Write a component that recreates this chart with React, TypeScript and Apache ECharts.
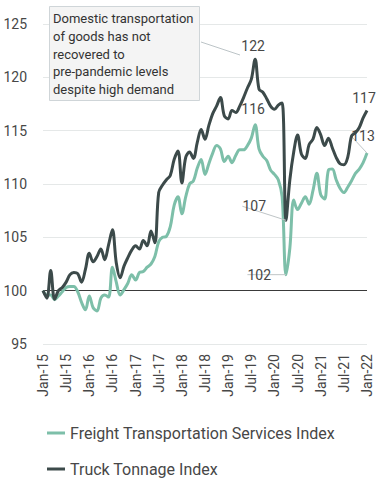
import React, { useEffect, useRef } from "react";
import * as echarts from "echarts";

const monthNames = ["Jan", "Feb", "Mar", "Apr", "May", "Jun", "Jul", "Aug", "Sep", "Oct", "Nov", "Dec"];
const startYear = 2015;
const monthCount = 85; // Jan-15 .. Jan-22
const categories: string[] = [];
for (let i = 0; i < monthCount; i++) {
  const y = startYear + Math.floor(i / 12);
  categories.push(`${monthNames[i % 12]}-${String(y).slice(2)}`);
}

const freightTSI = [
  100.0, 99.6, 99.6, 99.15, 99.5, 99.9, 100.3, 100.4, 100.4, 99.9, 98.9, 98.2,
  99.5, 98.4, 98.1, 99.3, 99.6, 99.4, 102.2, 100.8, 99.6, 100.1, 100.7, 101.5,
  101.0, 101.7, 101.8, 102.2, 102.5, 103.2, 104.6, 105.0, 105.1, 106.0, 108.0, 108.8,
  107.2, 108.8, 110.0, 110.3, 111.5, 112.3, 110.9, 111.9, 112.9, 113.6, 113.3, 112.1,
  112.6, 112.0, 112.7, 113.2, 113.2, 113.6, 114.3, 115.55, 113.3, 112.6, 112.2, 111.3,
  110.9, 110.4, 108.8, 101.5, 104.0, 108.5, 107.6, 108.2, 108.8, 108.1, 109.4, 111.0,
  109.0, 108.6, 111.3, 111.4, 110.4, 109.6, 109.2, 109.7, 110.3, 111.0, 111.4, 112.0,
  112.9,
];

const truckTonnage = [
  100.0, 99.3, 101.9, 99.2, 100.0, 100.3, 100.8, 101.5, 101.7, 101.6, 100.8, 102.0,
  103.5, 102.7, 103.2, 103.9, 102.9, 104.3, 105.7, 102.6, 101.2, 102.3, 103.1, 103.8,
  104.2, 103.9, 104.7, 104.2, 105.6, 104.5, 109.2, 109.9, 110.4, 110.8, 112.3, 113.1,
  110.1, 112.5, 113.0, 112.4, 113.9, 115.1, 114.2, 115.5, 116.6, 117.3, 118.1, 116.4,
  116.1, 116.9, 116.7, 117.3, 118.1, 119.0, 119.8, 121.7, 118.9, 118.6, 118.0, 117.3,
  117.0, 117.4, 117.6, 106.6, 110.4, 113.0, 114.6, 112.8, 112.4, 113.7, 114.2, 115.3,
  114.6, 113.6, 114.3, 113.4, 112.5, 111.9, 111.8, 112.5, 114.5, 114.8, 115.3, 116.2,
  116.9,
];

const yMin = 95;
const yMax = 125;
const yStep = 5;
const baseline = 100;

const annotationLines = [
  "Domestic transportation",
  "of goods has not",
  "recovered to",
  "pre-pandemic levels",
  "despite high demand",
];

const FONT = "Roboto, 'Noto Sans', sans-serif";
const GREEN = "#7dbfa9";
const DARK = "#3c4a4a";
const TEXT = "#474747";

type LabelSpec = { dx: number; dy: number; pos: string; line: boolean; dist: number };

// which points carry value labels
const freightLabels: Record<number, LabelSpec> = {
  55: { dx: -2, dy: 0, pos: "top", line: false, dist: 9 },
  63: { dx: -10, dy: 0, pos: "left", line: true, dist: 5 },
  84: { dx: -4, dy: -5, pos: "top", line: true, dist: 5 },
};
const truckLabels: Record<number, LabelSpec> = {
  55: { dx: -2, dy: 0, pos: "top", line: false, dist: 6 },
  63: { dx: -15, dy: -14, pos: "left", line: true, dist: 5 },
  84: { dx: -3, dy: 0, pos: "top", line: false, dist: 5 },
};

function buildData(values: number[], labels: Record<number, LabelSpec>) {
  return values.map((v, i) => {
    const l = labels[i];
    if (!l) return v;
    return {
      value: v,
      label: {
        show: true,
        position: l.pos,
        distance: l.dist,
        formatter: () => String(Math.round(v)),
        fontFamily: FONT,
        fontSize: 14,
        color: TEXT,
      },
      labelLine: {
        show: l.line,
        lineStyle: { color: "#bfc5c7", width: 1 },
      },
    };
  });
}

function layoutFor(labels: Record<number, LabelSpec>) {
  return (params: any) => {
    const l = labels[params.dataIndex];
    if (!l) return {};
    return { dx: l.dx, dy: l.dy };
  };
}

export default function App() {
  const ref = useRef<HTMLDivElement>(null);

  useEffect(() => {
    if (!ref.current) return;
    const chart = echarts.init(ref.current, undefined, { renderer: "svg" });
    chart.setOption({
      animation: false,
      textStyle: { fontFamily: FONT },
      grid: { left: 43, right: 11, top: 24, bottom: 143 },
      legend: {
        orient: "vertical",
        left: 47,
        top: 424,
        padding: 0,
        icon: "rect",
        itemWidth: 18,
        itemHeight: 3,
        itemGap: 18,
        textStyle: { fontFamily: FONT, fontSize: 16, color: TEXT, lineHeight: 18 },
        data: ["Freight Transportation Services Index", "Truck Tonnage Index"],
      },
      xAxis: {
        type: "category",
        data: categories,
        boundaryGap: false,
        axisLine: { show: false },
        axisTick: { show: false },
        splitLine: { show: false },
        axisLabel: {
          interval: 5,
          rotate: 90,
          margin: 10,
          fontFamily: FONT,
          fontSize: 14,
          color: TEXT,
        },
      },
      yAxis: {
        type: "value",
        min: yMin,
        max: yMax,
        interval: yStep,
        axisLine: { show: false },
        axisTick: { show: false },
        splitLine: { lineStyle: { color: "#e5e8e8", width: 1 } },
        axisLabel: { margin: 16, fontFamily: FONT, fontSize: 14, color: TEXT },
      },
      series: [
        {
          name: "Freight Transportation Services Index",
          type: "line",
          data: buildData(freightTSI, freightLabels),
          smooth: 0.35,
          symbol: "circle",
          symbolSize: 0,
          showSymbol: true,
          showAllSymbol: true,
          lineStyle: { color: GREEN, width: 3 },
          itemStyle: { color: GREEN },
          label: { show: false },
          labelLayout: layoutFor(freightLabels),
          z: 2,
        },
        {
          name: "Truck Tonnage Index",
          type: "line",
          data: buildData(truckTonnage, truckLabels),
          smooth: 0.35,
          symbol: "circle",
          symbolSize: 0,
          showSymbol: true,
          showAllSymbol: true,
          lineStyle: { color: DARK, width: 3 },
          itemStyle: { color: DARK },
          label: { show: false },
          labelLayout: layoutFor(truckLabels),
          z: 3,
          markLine: {
            silent: true,
            symbol: "none",
            label: { show: false },
            lineStyle: { color: "#3a3a3a", width: 1, type: "solid" },
            data: [{ yAxis: baseline }],
            z: 1,
          },
        },
      ],
      graphic: [
        {
          type: "rect",
          shape: { x: 49.5, y: 6.5, width: 150, height: 94 },
          style: { fill: "#f4f4f4", stroke: "#cfd5d8", lineWidth: 1 },
          z: 10,
        },
        {
          type: "text",
          x: 53,
          y: 10,
          style: {
            text: annotationLines.join("\n"),
            font: `13px ${FONT}`,
            fill: "#333333",
            lineHeight: 17.7,
          },
          z: 11,
        },
        {
          type: "line",
          shape: { x1: 201, y1: 42, x2: 240, y2: 55 },
          style: { stroke: "#bcc4c7", lineWidth: 1 },
          z: 10,
        },
      ],
    });
    return () => chart.dispose();
  }, []);

  return (
    <div
      ref={ref}
      style={{ position: "absolute", left: 0, top: 0, width: 378, height: 487 }}
    />
  );
}
